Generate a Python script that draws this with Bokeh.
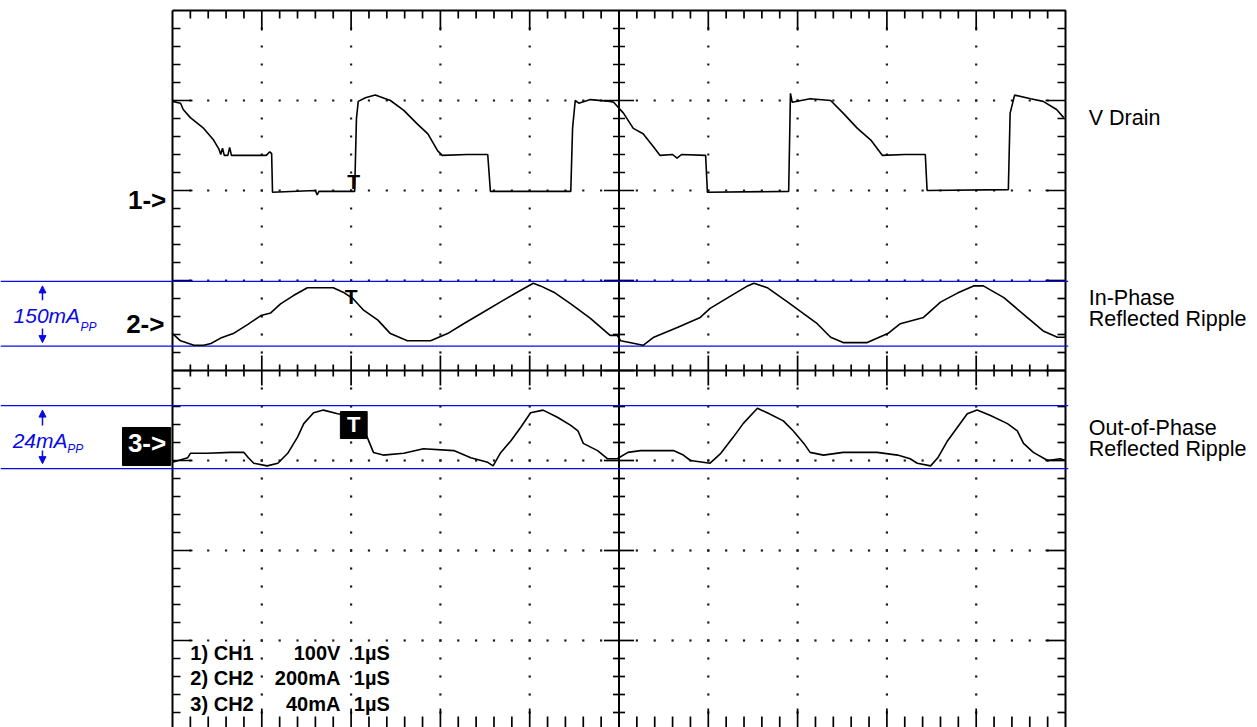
import numpy as np
from bokeh.plotting import figure
from bokeh.models import Range1d, Arrow, NormalHead
from bokeh.core.properties import value
from bokeh.embed import file_html
from bokeh.resources import INLINE

# ---------------- data (time in µs = divisions, amplitude in divisions) -------------
ch1_t = [0.00, 0.09, 0.12, 0.20, 0.35, 0.46, 0.52, 0.54, 0.56, 0.58, 0.62, 0.64, 0.66,
         1.05, 1.09, 1.11, 1.12, 1.60, 1.62, 1.64, 2.04, 2.05, 2.06, 2.08, 2.16, 2.27,
         2.44, 2.59, 2.74, 2.86, 2.97, 3.02, 3.30, 3.53, 3.56, 4.46, 4.48, 4.51, 4.55,
         4.68, 4.90, 4.94, 5.05, 5.16, 5.27, 5.39, 5.46, 5.60, 5.65, 5.70, 5.97, 5.99,
         6.90, 6.92, 6.94, 7.14, 7.37, 7.51, 7.67, 7.82, 7.95, 8.20, 8.43, 8.45, 9.36,
         9.38, 9.43, 9.61, 9.75, 9.90, 9.98]
ch1_v = [2.99, 2.97, 2.90, 2.81, 2.69, 2.56, 2.46, 2.40, 2.47, 2.39, 2.39, 2.48, 2.39,
         2.39, 2.43, 2.41, 1.98, 2.00, 1.95, 1.99, 1.99, 2.40, 2.80, 2.99, 3.03, 3.06,
         3.00, 2.89, 2.74, 2.63, 2.44, 2.39, 2.40, 2.40, 1.99, 1.99, 2.69, 3.00, 2.97,
         3.01, 2.99, 2.98, 2.86, 2.69, 2.63, 2.48, 2.39, 2.40, 2.36, 2.40, 2.39, 1.98,
         1.99, 3.08, 2.98, 3.02, 3.00, 2.86, 2.69, 2.56, 2.39, 2.40, 2.40, 2.00, 2.01,
         2.86, 3.06, 3.02, 2.99, 2.90, 2.81]

ch2_t = [0.00, 0.09, 0.24, 0.35, 0.43, 0.54, 0.68, 0.84, 0.99, 1.10, 1.21, 1.35, 1.51,
         1.80, 1.91, 2.02, 2.14, 2.30, 2.44, 2.63, 2.89, 3.08, 3.26, 3.45, 3.67, 3.86,
         4.04, 4.12, 4.27, 4.46, 4.68, 4.90, 4.98, 5.02, 5.27, 5.39, 5.66, 5.91, 6.02,
         6.22, 6.44, 6.51, 6.66, 6.89, 7.07, 7.22, 7.37, 7.51, 7.78, 8.01, 8.15, 8.41,
         8.60, 8.79, 8.97, 9.08, 9.31, 9.57, 9.75, 9.91, 10.0]
ch2_v = [0.41, 0.33, 0.28, 0.28, 0.30, 0.36, 0.41, 0.51, 0.61, 0.64, 0.74, 0.83, 0.92,
         0.92, 0.87, 0.80, 0.67, 0.56, 0.41, 0.33, 0.33, 0.41, 0.52, 0.63, 0.76, 0.87,
         0.97, 0.94, 0.87, 0.74, 0.58, 0.39, 0.39, 0.33, 0.28, 0.37, 0.48, 0.59, 0.69,
         0.81, 0.94, 0.97, 0.92, 0.76, 0.63, 0.52, 0.37, 0.31, 0.31, 0.41, 0.52, 0.59,
         0.76, 0.86, 0.94, 0.94, 0.81, 0.59, 0.44, 0.37, 0.37]

ch3_t = [0.00, 0.17, 0.20, 0.39, 0.65, 0.80, 0.85, 0.91, 1.06, 1.18, 1.29, 1.40, 1.47,
         1.58, 1.69, 1.85, 1.95, 2.10, 2.18, 2.25, 2.36, 2.59, 2.81, 3.15, 3.34, 3.53,
         3.59, 3.67, 3.79, 3.90, 4.01, 4.15, 4.31, 4.46, 4.54, 4.60, 4.76, 4.87, 4.98,
         5.10, 5.24, 5.61, 5.72, 5.80, 6.02, 6.14, 6.28, 6.39, 6.55, 6.66, 6.84, 6.95,
         7.07, 7.14, 7.29, 7.51, 7.89, 8.12, 8.26, 8.34, 8.49, 8.57, 8.68, 8.79, 8.90,
         9.01, 9.16, 9.35, 9.46, 9.53, 9.64, 9.80, 9.94, 10.0]
ch3_v = [-1.02, -0.97, -0.92, -0.92, -0.91, -0.91, -0.97, -1.03, -1.06, -1.03, -0.92,
         -0.74, -0.59, -0.47, -0.44, -0.48, -0.50, -0.60, -0.74, -0.91, -0.94, -0.92,
         -0.87, -0.89, -0.97, -1.02, -1.06, -0.92, -0.78, -0.63, -0.47, -0.44, -0.52,
         -0.61, -0.67, -0.81, -0.89, -0.98, -0.98, -0.91, -0.89, -0.89, -0.94, -1.00,
         -1.03, -0.92, -0.74, -0.59, -0.42, -0.47, -0.56, -0.67, -0.81, -0.91, -0.94,
         -0.91, -0.91, -0.94, -0.98, -1.03, -1.06, -0.97, -0.78, -0.63, -0.48, -0.44,
         -0.50, -0.59, -0.67, -0.81, -0.91, -1.00, -0.98, -1.00]

cursor_ch2 = [0.99, 0.27]      # blue cursor levels, channel 2
cursor_ch3 = [-0.39, -1.09]    # blue cursor levels, channel 3
cursor_labels = ["150mA", "24mA"]
cursor_sub = ["PP", "PP"]

channel_markers = ["1->", "2->", "3->"]
trace_names = [["V Drain"], ["In-Phase", "Reflected Ripple"], ["Out-of-Phase", "Reflected Ripple"]]

setting_ch = ["1) CH1", "2) CH2", "3) CH2"]
setting_scale = ["100V", "200mA", "40mA"]
setting_time = ["1µS", "1µS", "1µS"]

trigger_t = 2.03
# -------------------------------------------------------------------------------

FONT = value("Liberation Sans")
BLUE = "#0a0ae6"
PX, PY = 89.3, 90.0            # pixels per division
W, H = 1257, 727
X0 = -172 / PX
X1 = X0 + W / PX
Y1 = 370 / PY
Y0 = Y1 - H / PY

p = figure(width=W, height=H, x_range=Range1d(X0, X1), y_range=Range1d(Y0, Y1),
           x_axis_type=None, y_axis_type=None, toolbar_location=None,
           output_backend="svg", min_border=0)
p.outline_line_color = None
p.background_fill_color = "white"
p.border_fill_color = "white"

# ---- graticule dots
steps_t = [round(k * 0.2, 3) for k in range(1, 50)]
steps_v = [round(k * 0.2, 3) for k in range(-19, 20)]
dx, dy = [], []
for lv in [-3, -2, -1, 1, 2, 3]:
    dx += steps_t; dy += [lv] * len(steps_t)
for lt in [1, 2, 3, 4, 6, 7, 8, 9]:
    vv = [v for v in steps_v if abs(v) > 1e-9]
    dx += [lt] * len(vv); dy += vv
p.scatter(dx, dy, marker="square", size=2.2, color="#1a1a1a", line_width=0)

# ---- ticks
def is_major(v):
    return abs(v - round(v)) < 1e-6

sx0, sy0, sx1, sy1 = [], [], [], []
for t in steps_t:
    L = (20 if is_major(t) else 8) / PY
    Lb = (22 if is_major(t) else 14) / PY
    sx0 += [t, t]; sy0 += [4.0, -4.0]; sx1 += [t, t]; sy1 += [4 - L, -4 + Lb]
    l = (15 if is_major(t) else 6) / PY
    sx0.append(t); sy0.append(-l); sx1.append(t); sy1.append(l)
for v in steps_v:
    L = (20 if is_major(v) else 8) / PX
    sx0 += [0.0, 10.0]; sy0 += [v, v]; sx1 += [L, 10 - L]; sy1 += [v, v]
    l = (15 if is_major(v) else 6) / PX
    sx0.append(5 - l); sy0.append(v); sx1.append(5 + l); sy1.append(v)
p.segment(x0=sx0, y0=sy0, x1=sx1, y1=sy1, line_color="black", line_width=1.7)

# ---- center axes and border
p.segment(x0=[0, 5], y0=[0, -4], x1=[10, 5], y1=[0, 4], line_color="black", line_width=2)
p.line([0, 10, 10, 0, 0], [4, 4, -4, -4, 4], line_color="black", line_width=2)

# ---- blue cursors
for lvl in cursor_ch2 + cursor_ch3:
    p.line([X0, 10.03], [lvl, lvl], line_color=BLUE, line_width=1.2)

# ---- traces
for t, v in [(ch1_t, ch1_v), (ch2_t, ch2_v), (ch3_t, ch3_v)]:
    p.line(t, v, line_color="black", line_width=1.6)

# ---- trigger markers
p.text([trigger_t, trigger_t - 0.03], [2.10, 0.82], ["T", "T"], text_font=FONT,
       text_font_size="21px", text_font_style="bold", text_align="center",
       text_baseline="middle", text_color="black")
p.quad(left=[1.88], right=[2.18], top=[-0.456], bottom=[-0.756], color="black")
p.text([trigger_t], [-0.60], ["T"], text_font=FONT, text_font_size="22px",
       text_font_style="bold", text_align="center", text_baseline="middle",
       text_color="white")

# ---- channel markers
p.text([-0.07, -0.09], [1.90, 0.52], channel_markers[:2], text_font=FONT,
       text_font_size="26px", text_font_style="bold", text_align="right",
       text_baseline="middle", text_color="black")
p.quad(left=[-0.56], right=[-0.02], top=[-0.633], bottom=[-1.056], color="black")
p.text([-0.285], [-0.80], [channel_markers[2]], text_font=FONT, text_font_size="26px",
       text_font_style="bold", text_align="center", text_baseline="middle",
       text_color="white")

# ---- trace names on the right
nx, ny, nt = [], [], []
name_y = [[2.81], [0.81, 0.57], [-0.64, -0.87]]
for names, ys in zip(trace_names, name_y):
    for n, yy in zip(names, ys):
        nx.append(10.26); ny.append(yy); nt.append(n)
p.text(nx, ny, nt, text_font=FONT, text_font_size="21.5px", text_align="left",
       text_baseline="middle", text_color="black")

# ---- blue cursor labels and arrows
p.text([-1.78, -1.79], [0.61, -0.78], cursor_labels, text_font=FONT,
       text_font_size="21px", text_font_style="italic", text_align="left",
       text_baseline="middle", text_color=BLUE)
p.text([-1.03, -1.18], [0.48, -0.87], cursor_sub, text_font=FONT,
       text_font_size="12px", text_font_style="italic", text_align="left",
       text_baseline="middle", text_color=BLUE)
ax = -1.456
for (ys, ye) in [(0.78, cursor_ch2[0] - 0.05), (0.467, cursor_ch2[1] + 0.04),
                 (-0.61, cursor_ch3[0] - 0.05), (-0.889, cursor_ch3[1] + 0.055)]:
    p.add_layout(Arrow(end=NormalHead(size=7, fill_color=BLUE, line_color=BLUE),
                       x_start=ax, y_start=ys, x_end=ax, y_end=ye,
                       line_color=BLUE, line_width=1.5))

# ---- scope settings text
rows_v = [-3.144, -3.422, -3.70]
common = dict(text_font=FONT, text_font_size="20px", text_font_style="bold",
              text_baseline="middle", text_color="black")
p.text([0.20] * 3, rows_v, setting_ch, text_align="left", **common)
p.text([1.88] * 3, rows_v, setting_scale, text_align="right", **common)
p.text([2.03] * 3, rows_v, setting_time, text_align="left", **common)

open("out.html", "w").write(file_html(p, INLINE))
